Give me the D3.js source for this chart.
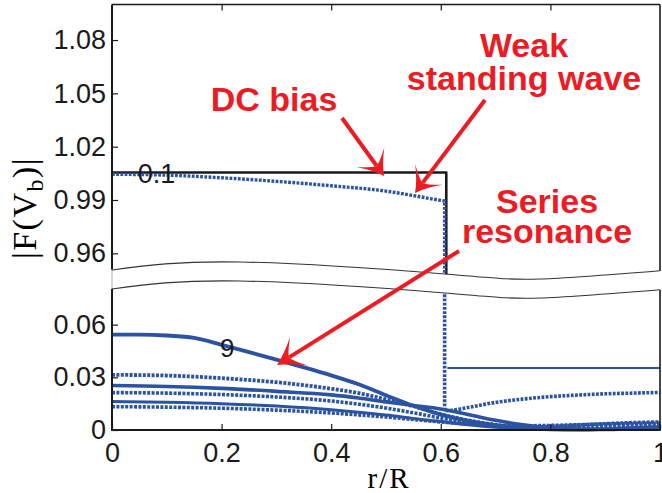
<!DOCTYPE html>
<html>
<head>
<meta charset="utf-8">
<script src="https://cdn.jsdelivr.net/npm/d3@7"></script>
<style>
  body { margin: 0; background: #fff; }
  text { font-family: "Liberation Sans", Arial, sans-serif; }
</style>
</head>
<body>
<svg id="mainsvg" width="662" height="493"></svg>
<script>
// ---- data (r/R positions and |F(Vb)| values) ----
const xTicks = [0, 0.2, 0.4, 0.6, 0.8, 1];
const yTicksTop = [0.96, 0.99, 1.02, 1.05, 1.08];
const yTicksBot = [0, 0.03, 0.06];

// DC bias: step profile (1 under the electrode)
const rDC = [0, 0.61, 0.61];
const vDC = [1.0055, 1.0055, 0];

// f = 0.1 : weak standing wave (dotted), continues outside the electrode
const rWeak = [0, 0.1, 0.2, 0.3, 0.4, 0.5, 0.55, 0.6, 0.607, 0.607, 0.62, 0.65, 0.7, 0.75, 0.8, 0.85, 0.9, 0.95, 1];
const vWeak = [1.0045, 1.004, 1.0025, 1.0005, 0.998, 0.995, 0.9925, 0.9898, 0.9895,
               0.011, 0.0112, 0.0128, 0.0157, 0.0176, 0.019, 0.0199, 0.0206, 0.021, 0.0214];

// thin level line outside the electrode
const rFlat = [0.612, 1];
const vFlat = [0.0353, 0.0353];

// f = 9 : series resonance
const rRes9 = [0, 0.05, 0.1, 0.15, 0.2, 0.25, 0.3, 0.35, 0.4, 0.45, 0.5, 0.55, 0.6, 0.65, 0.7, 0.75, 0.8, 0.85, 0.9, 0.95, 1];
const vRes9 = [0.0543, 0.0543, 0.0538, 0.0524, 0.0485, 0.0443, 0.0401, 0.0357, 0.0311, 0.026, 0.0198, 0.0138, 0.0088, 0.0052, 0.0027, 0.0012, 0.0004, 0.0002, 0.0006, 0.0012, 0.0018];

// other lower panel curves, shared r grid
const rLow = [0, 0.1, 0.2, 0.3, 0.4, 0.45, 0.5, 0.55, 0.6, 0.65, 0.7, 0.75, 0.8, 0.85, 0.9, 0.95, 1];
const vDot1 = [0.0314, 0.031, 0.0295, 0.0272, 0.0235, 0.021, 0.0175, 0.0135, 0.009, 0.0055, 0.003, 0.0015, 0.0012, 0.0015, 0.0022, 0.003, 0.0035];
const vSol2 = [0.0253, 0.0248, 0.0237, 0.022, 0.02, 0.0182, 0.016, 0.014, 0.012, 0.0088, 0.0055, 0.003, 0.0012, 0.0005, 0.0003, 0.0008, 0.0015];
const vDot2 = [0.0213, 0.021, 0.0202, 0.0188, 0.0165, 0.0147, 0.0125, 0.0098, 0.0068, 0.0042, 0.0025, 0.0018, 0.002, 0.0028, 0.0036, 0.0042, 0.0046];
const vSol3 = [0.0162, 0.0158, 0.015, 0.0136, 0.0115, 0.0101, 0.0085, 0.0066, 0.0048, 0.003, 0.0016, 0.0007, 0.0003, 0.0002, 0.0004, 0.0007, 0.001];
const vDot3 = [0.0133, 0.013, 0.0124, 0.0113, 0.0097, 0.0086, 0.0074, 0.006, 0.0046, 0.0034, 0.0026, 0.0024, 0.0026, 0.003, 0.0034, 0.0037, 0.0039];

// axis break wave (r positions, pixel offsets)
const breakR = [0, 0.234, 0.607, 0.781, 1];
const breakDy = [0, -8, 4, 9, 0.7];

const blue = "#2c53a2";
const red = "#ed1c24";

const svg = d3.select("#mainsvg");
const x = d3.scaleLinear().domain([0, 1]).range([112, 660]);
const yTop = d3.scaleLinear().domain([0.95, 1.1]).range([271.1, 4.5]);
const yBot = d3.scaleLinear().domain([0, 0.08]).range([430, 289.5]);

const defs = svg.append("defs");
defs.append("clipPath").attr("id", "clipTop")
  .append("rect").attr("x", 100).attr("y", 0).attr("width", 570).attr("height", 285);
defs.append("clipPath").attr("id", "clipBot")
  .append("rect").attr("x", 100).attr("y", 275).attr("width", 570).attr("height", 160);

function pathFor(yScale, rs, vs) {
  const pts = rs.map((r, i) => ({r: r, v: vs[i]}));
  const runs = [[pts[0]]];
  for (let i = 1; i < pts.length; i++) {
    if (pts[i].r === pts[i - 1].r) runs.push([pts[i]]);
    else runs[runs.length - 1].push(pts[i]);
  }
  const line = d3.line().x(d => x(d.r)).y(d => yScale(d.v)).curve(d3.curveMonotoneX);
  return runs.map((run, i) => {
    let s = run.length > 1 ? line(run) : "M" + x(run[0].r) + "," + yScale(run[0].v);
    return i > 0 ? s.replace(/^M/, "L") : s;
  }).join("");
}

function drawSeries(g, yScale, rs, vs, color, width, dash) {
  g.append("path")
    .attr("d", pathFor(yScale, rs, vs))
    .attr("fill", "none")
    .attr("stroke", color)
    .attr("stroke-width", width)
    .attr("stroke-dasharray", dash || null)
    .attr("stroke-linejoin", "round");
}

// ---- lower panel ----
const gBot = svg.append("g").attr("clip-path", "url(#clipBot)");
drawSeries(gBot, yBot, rLow, vDot3, blue, 3.6, "3,1.4");
drawSeries(gBot, yBot, rLow, vSol3, blue, 3);
drawSeries(gBot, yBot, rLow, vDot2, blue, 3.6, "3,1.4");
drawSeries(gBot, yBot, rLow, vSol2, blue, 3.6);
drawSeries(gBot, yBot, rLow, vDot1, blue, 3.8, "3,1.4");
drawSeries(gBot, yBot, rRes9, vRes9, blue, 3.8);
drawSeries(gBot, yBot, rFlat, vFlat, blue, 1.8);
drawSeries(gBot, yBot, rWeak, vWeak, blue, 3.6, "2.8,1.4");

// ---- upper panel ----
const gTop = svg.append("g").attr("clip-path", "url(#clipTop)");
drawSeries(gTop, yTop, rDC, vDC, "#1a1a1a", 2.6);
drawSeries(gTop, yTop, rWeak, vWeak, blue, 3.4, "2.8,1.4");

// ---- frame ----
const frame = svg.append("g").attr("stroke", "#1a1a1a").attr("fill", "none");
frame.append("line").attr("x1", x(0)).attr("x2", x(0)).attr("y1", yTop(1.1)).attr("y2", yBot(0)).attr("stroke-width", 2);
frame.append("line").attr("x1", x(1)).attr("x2", x(1)).attr("y1", yTop(1.1)).attr("y2", yBot(0)).attr("stroke-width", 1.6);
frame.append("line").attr("x1", x(0)).attr("x2", x(1)).attr("y1", yTop(1.1)).attr("y2", yTop(1.1)).attr("stroke-width", 1.6);
frame.append("line").attr("x1", x(0) - 1).attr("x2", x(1) + 0.8).attr("y1", yBot(0)).attr("y2", yBot(0)).attr("stroke-width", 2.2);

function styleAxis(g) {
  g.select(".domain").remove();
  g.selectAll(".tick line").attr("stroke", "#1a1a1a").attr("stroke-width", 1.2);
  g.selectAll(".tick text").attr("fill", "#1a1a1a")
    .style("font-size", "27px").style("font-family", "'Liberation Sans', Arial, sans-serif");
}

svg.append("g").attr("transform", `translate(${x(0)},0)`)
  .call(d3.axisLeft(yTop).tickValues(yTicksTop).tickSize(-6).tickPadding(6).tickFormat(d3.format(".2f")))
  .call(styleAxis);
svg.append("g").attr("transform", `translate(${x(0)},0)`)
  .call(d3.axisLeft(yBot).tickValues(yTicksBot).tickSize(-6).tickPadding(6)
    .tickFormat(d => d === 0 ? "0" : d3.format(".2f")(d)))
  .call(styleAxis);
svg.append("g").attr("transform", `translate(0,${yBot(0)})`)
  .call(d3.axisBottom(x).tickValues(xTicks).tickSize(-6).tickPadding(13).tickFormat(d => String(d)))
  .call(styleAxis);
svg.append("g").attr("transform", `translate(0,${yTop(1.1)})`)
  .call(d3.axisTop(x).tickValues(xTicks.slice(1, -1)).tickSize(-6).tickFormat(""))
  .call(styleAxis);

// ---- axis break ----
const breakPts = breakR.map((r, i) => ({r: r, dy: breakDy[i]}));
const yBreak0 = 270, breakGap = 19;
svg.append("path")
  .datum(breakPts)
  .attr("d", d3.area()
    .x(d => x(d.r) + (d.r === 0 ? -3 : d.r === 1 ? 3 : 0))
    .y0(d => yBreak0 + d.dy)
    .y1(d => yBreak0 + breakGap + d.dy)
    .curve(d3.curveNatural))
  .attr("fill", "#fff");
svg.append("line")
  .attr("x1", x(0)).attr("x2", x(0)).attr("y1", yBreak0).attr("y2", yBreak0 + breakGap)
  .attr("stroke", "#bbb").attr("stroke-width", 1.2);
[0, breakGap].forEach(off => {
  svg.append("path")
    .datum(breakPts)
    .attr("d", d3.line().x(d => x(d.r)).y(d => yBreak0 + off + d.dy).curve(d3.curveNatural))
    .attr("fill", "none")
    .attr("stroke", "#333")
    .attr("stroke-width", 1.1);
});

// ---- axis labels ----
svg.append("text")
  .attr("x", 389).attr("y", 488)
  .attr("text-anchor", "middle")
  .style("font-family", "'Liberation Serif', 'Times New Roman', serif")
  .style("font-size", "29px")
  .style("letter-spacing", "2px")
  .text("r/R");

const yl = svg.append("text")
  .attr("transform", "translate(36,208) rotate(-90)")
  .attr("text-anchor", "middle")
  .style("font-family", "'Liberation Serif', 'Times New Roman', serif")
  .style("font-size", "34px")
  .style("letter-spacing", "1.5px");
yl.append("tspan").text("|F(V");
yl.append("tspan").attr("dy", 7).style("font-size", "24px").text("b");
yl.append("tspan").attr("dy", -7).text(")|");

// curve labels
svg.append("text").attr("x", x(0.047)).attr("y", yTop(1.0055) + 11)
  .style("font-size", "27px").attr("fill", "#1a1a1a").text("0.1");
svg.append("text").attr("x", x(0.197)).attr("y", 357)
  .style("font-size", "26px").attr("fill", "#1a1a1a").text("9");

// ---- annotations ----
const notes = [
  {lines: ["DC bias"], cx: 274, y: 111, lh: 0},
  {lines: ["Weak", "standing wave"], cx: 524, y: 57, lh: 33},
  {lines: ["Series", "resonance"], cx: 547, y: 213, lh: 30}
];
notes.forEach(n => {
  n.lines.forEach((t, i) => {
    svg.append("text")
      .attr("x", n.cx).attr("y", n.y + i * n.lh)
      .attr("text-anchor", "middle")
      .attr("fill", red)
      .style("font-size", "34px")
      .style("font-weight", "bold")
      .text(t);
  });
});

const arrows = [
  {x0: 342, y0: 118, x1: 384, y1: 176, L: 23, W: 17},
  {x0: 485, y0: 100, x1: 415, y1: 193, L: 23, W: 17},
  {x0: 459, y0: 251, x1: 277, y1: 365, L: 26, W: 17}
];
arrows.forEach(a => {
  const dx = a.x1 - a.x0, dy = a.y1 - a.y0;
  const len = Math.sqrt(dx * dx + dy * dy);
  const ux = dx / len, uy = dy / len;
  const nx = -uy, ny = ux;
  const notch = a.L * 0.55;
  svg.append("line")
    .attr("x1", a.x0).attr("y1", a.y0)
    .attr("x2", a.x1 - ux * notch).attr("y2", a.y1 - uy * notch)
    .attr("stroke", red).attr("stroke-width", 4);
  const bx = a.x1 - ux * a.L, by = a.y1 - uy * a.L;
  const w1 = [bx + nx * a.W, by + ny * a.W];
  const w2 = [bx - nx * a.W, by - ny * a.W];
  const nk = [a.x1 - ux * notch, a.y1 - uy * notch];
  svg.append("path")
    .attr("d", `M${a.x1},${a.y1} Q${a.x1 - ux * a.L * 0.5 + nx * a.W * 0.35},${a.y1 - uy * a.L * 0.5 + ny * a.W * 0.35} ${w1[0]},${w1[1]}`
      + ` Q${nk[0] + nx * 3},${nk[1] + ny * 3} ${nk[0]},${nk[1]}`
      + ` Q${nk[0] - nx * 3},${nk[1] - ny * 3} ${w2[0]},${w2[1]}`
      + ` Q${a.x1 - ux * a.L * 0.5 - nx * a.W * 0.35},${a.y1 - uy * a.L * 0.5 - ny * a.W * 0.35} ${a.x1},${a.y1} Z`)
    .attr("fill", red);
});
</script>
</body>
</html>
